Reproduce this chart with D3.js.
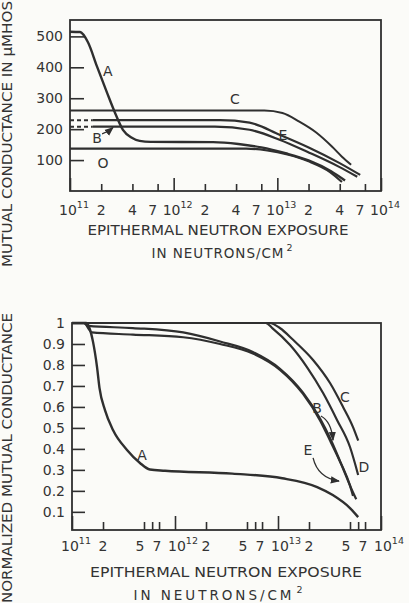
<!DOCTYPE html>
<html><head><meta charset="utf-8">
<script src="https://cdn.jsdelivr.net/npm/d3@7"></script>
<style>
html,body{margin:0;padding:0;background:#fbfbf8;}
svg{display:block;}
text{font-family:"DejaVu Sans",sans-serif;fill:#333;}
</style></head><body>
<svg id="chart" width="409" height="603"></svg>
<script>
// Exposure axis (neutrons/cm^2), shared by both panels
const decadeTicks = [1e11, 1e12, 1e13, 1e14];
const topMinorTicks = [2e11, 4e11, 7e11, 2e12, 4e12, 7e12, 2e13, 4e13, 7e13];
const topMinorLabels = ["2", "4", "7", "2", "4", "7", "2", "4", "7"];
const bottomMinorTicks = [2e11, 5e11, 6e11, 7e11, 2e12, 5e12, 6e12, 7e12, 2e13, 5e13, 6e13, 7e13];
const bottomMinorLabelTicks = [2e11, 5e11, 7e11, 2e12, 5e12, 7e12, 2e13, 5e13, 7e13];
const bottomMinorLabels = ["2", "5", "7", "2", "5", "7", "2", "5", "7"];
const decadeExponents = ["11", "12", "13", "14"];

// Upper panel: mutual conductance in micromhos
const absTicks = [100, 200, 300, 400, 500];
const absA = [[1e11,515],[1.25e11,514],[1.49e11,481],[1.82e11,403],[2.27e11,319],[2.71e11,254],[3.24e11,198],[3.95e11,172],[4.7e11,162],[6e11,159],[2.4e12,158],[4.2e12,152],[7e12,141],[1.2e13,122],[2e13,99],[3.3e13,64],[4.5e13,34]];
const absB = [[1e11,208],[1.66e11,208],[2.5e12,208],[5.4e12,198],[1.05e13,166],[2.03e13,124],[3.95e13,78],[5.9e13,46]];
const absC = [[1e11,260],[7.5e12,260],[1.12e13,252],[1.63e13,224],[2.37e13,189],[3.38e13,143],[4.2e13,111],[5.15e13,85]];
const absE = [[1e11,229],[1.66e11,229],[2.8e12,229],[5.4e12,221],[1.05e13,182],[2.03e13,140],[3.95e13,91],[6.3e13,52]];
const absO = [[1e11,137],[5e12,137],[8e12,131],[1.25e13,118],[2e13,96],[3.2e13,62],[4.2e13,29]];

// Lower panel: normalized mutual conductance
const normTicks = [0.1, 0.2, 0.3, 0.4, 0.5, 0.6, 0.7, 0.8, 0.9, 1];
const normTickLabels = ["0.1", "0.2", "0.3", "0.4", "0.5", "0.6", "0.7", "0.8", "0.9", "1"];
const normA = [[1e11,1],[1.38e11,1],[1.48e11,0.975],[1.6e11,0.91],[1.75e11,0.79],[1.85e11,0.69],[2.09e11,0.585],[2.5e11,0.49],[3.42e11,0.395],[4.57e11,0.333],[5.7e11,0.302],[8e11,0.296],[3.6e12,0.282],[1.1e13,0.26],[2.4e13,0.218],[3.4e13,0.18],[5e13,0.118],[6e13,0.075]];
const normB = [[1e11,1],[1.3e11,1],[1.45e11,0.986],[3.9e11,0.976],[1.2e12,0.955],[2.74e12,0.912],[5.7e12,0.862],[1.045e13,0.782],[1.75e13,0.668],[2.56e13,0.545],[3.2e13,0.452],[4e13,0.342],[5e13,0.226],[5.35e13,0.176]];
const normC = [[1e11,1],[8.3e12,1],[1.05e13,0.975],[1.4e13,0.92],[2.19e13,0.824],[3.2e13,0.714],[4.28e13,0.6],[5.35e13,0.504],[6e13,0.44]];
const normD = [[1e11,1],[7.6e12,1],[8.8e12,0.976],[1.31e13,0.895],[1.91e13,0.79],[2.74e13,0.666],[3.74e13,0.538],[5e13,0.409],[6e13,0.276]];
const normE = [[1e11,1],[1.3e11,1],[1.56e11,0.955],[3.9e11,0.945],[1.2e12,0.932],[2.74e12,0.9],[5.7e12,0.855],[1.045e13,0.777],[1.75e13,0.662],[2.56e13,0.536],[3.2e13,0.44],[4.1e13,0.328],[5.1e13,0.215],[5.75e13,0.16]];

// Curve letters, placed in data coordinates
const absLabels = [
  {t:"A", x:2.32e11, y:387}, {t:"C", x:3.9e12, y:296}, {t:"E", x:1.13e13, y:182},
  {t:"B", x:1.82e11, y:172}, {t:"O", x:2.08e11, y:91}
];
const normLabels = [
  {t:"A", x:4.79e11, y:0.371}, {t:"B", x:2.39e13, y:0.595}, {t:"C", x:4.47e13, y:0.647},
  {t:"E", x:1.95e13, y:0.395}, {t:"D", x:6.84e13, y:0.314}
];
// Leader arrows: start, bend, end
const absArrows = [[[2.04e11,185],[2.3e11,190],[2.6e11,205]]];
const normArrows = [
  [[2.61e13,0.557],[3.3e13,0.53],[3.42e13,0.442]],
  [[2.19e13,0.357],[2.44e13,0.261],[3.91e13,0.247]]
];

const ink = "#2f2f2f";
const svg = d3.select("#chart");

svg.append("defs").append("marker")
  .attr("id", "head").attr("viewBox", "0 0 10 10").attr("refX", 9).attr("refY", 5)
  .attr("markerWidth", 7).attr("markerHeight", 7).attr("orient", "auto")
  .append("path").attr("d", "M0,1 L10,5 L0,9 Z").attr("fill", ink);

function drawPanel(p) {
  const x = d3.scaleLog().domain([1e11, 1e14]).range([p.left, p.right]);
  const y = d3.scaleLinear().domain(p.yDomain).range([p.bottom, p.top]);
  const g = svg.append("g");

  // y ticks, pointing into the plot
  const yAxis = d3.axisLeft(y).tickValues(p.yTicks).tickSize(-p.yTickLen).tickPadding(7)
    .tickFormat((d, i) => p.yTickLabels ? p.yTickLabels[i] : d);
  const ya = g.append("g").attr("transform", `translate(${p.left},0)`).call(yAxis);
  ya.select(".domain").remove();
  ya.selectAll("line").attr("stroke", ink).attr("stroke-width", 1.6);
  ya.selectAll("text").attr("font-size", 14).attr("fill", "#333").attr("font-family", "DejaVu Sans");

  // x ticks: short minors, longer decades
  const xMinor = d3.axisBottom(x).tickValues(p.minorTicks).tickSize(-p.minorLen).tickFormat("");
  const xMajor = d3.axisBottom(x).tickValues(decadeTicks).tickSize(-p.majorLen).tickFormat("");
  [xMinor, xMajor].forEach(ax => {
    const a = g.append("g").attr("transform", `translate(0,${p.bottom})`).call(ax);
    a.select(".domain").remove();
    a.selectAll("line").attr("stroke", ink).attr("stroke-width", 1.6);
  });

  // x tick labels, nudged so neighbouring digits stay apart
  g.selectAll(null).data(p.minorLabelTicks).join("text")
    .attr("x", (d, i) => x(d) + (p.labelNudge[p.minorLabels[i]] || 0)).attr("y", p.labelBase)
    .attr("text-anchor", "middle")
    .attr("font-size", 14).text((d, i) => p.minorLabels[i]);
  const dec = g.selectAll(null).data(decadeTicks).join("text")
    .attr("x", (d, i) => x(d) + (i === 0 ? 4 : p.decadeNudge)).attr("y", p.labelBase)
    .attr("text-anchor", "middle")
    .attr("font-size", 14);
  dec.append("tspan").text("10");
  dec.append("tspan").attr("font-size", 9.5).attr("dy", -7).text((d, i) => decadeExponents[i]);

  // frame
  g.append("rect").attr("x", p.left).attr("y", p.top)
    .attr("width", p.right - p.left).attr("height", p.bottom - p.top)
    .attr("fill", "none").attr("stroke", ink).attr("stroke-width", 1.8);

  // curves
  const line = d3.line().x(d => x(d[0])).y(d => y(d[1])).curve(d3.curveMonotoneX);
  p.series.forEach(s => {
    if (s.dashLead) {
      g.append("path").attr("d", line(s.data.slice(0, 2))).attr("fill", "none")
        .attr("stroke", ink).attr("stroke-width", 2).attr("stroke-dasharray", "4,3");
      g.append("path").attr("d", line(s.data.slice(1))).attr("fill", "none")
        .attr("stroke", ink).attr("stroke-width", s.w || 2.2).attr("stroke-linejoin", "round");
    } else {
      g.append("path").attr("d", line(s.data)).attr("fill", "none")
        .attr("stroke", ink).attr("stroke-width", s.w || 2.2).attr("stroke-linejoin", "round");
    }
  });

  // letters
  g.selectAll(null).data(p.labels).join("text")
    .attr("x", d => x(d.x)).attr("y", d => y(d.y) + 5).attr("text-anchor", "middle")
    .attr("font-size", 14).text(d => d.t);

  // arrows
  p.arrows.forEach(a => {
    const [s, c, e] = a.map(d => [x(d[0]), y(d[1])]);
    g.append("path").attr("d", `M${s[0]},${s[1]} Q${c[0]},${c[1]} ${e[0]},${e[1]}`)
      .attr("fill", "none").attr("stroke", ink).attr("stroke-width", 1.3)
      .attr("marker-end", "url(#head)");
  });

  // axis titles
  g.append("text").attr("x", p.xTitleX).attr("y", p.xTitleY1).attr("text-anchor", "middle")
    .attr("font-size", 13.5).attr("textLength", p.xTitleLen).attr("lengthAdjust", "spacingAndGlyphs")
    .text("EPITHERMAL NEUTRON EXPOSURE");
  const t2 = g.append("text").attr("x", p.xTitleX2).attr("y", p.xTitleY2).attr("text-anchor", "middle")
    .attr("font-size", 13.5);
  t2.append("tspan").attr("textLength", p.xTitleLen2).attr("lengthAdjust", "spacing").text("IN NEUTRONS/CM");
  t2.append("tspan").attr("font-size", 9.5).attr("dy", -7).attr("dx", 2).text("2");

  g.append("text").attr("transform", `translate(${p.yTitleX},${p.yTitleY}) rotate(-90)`)
    .attr("text-anchor", "middle").attr("font-size", 13.5)
    .attr("textLength", p.yTitleLen).attr("lengthAdjust", "spacingAndGlyphs")
    .text(p.yTitle);
}

drawPanel({
  left: 70, right: 381, top: 20, bottom: 191, yDomain: [0, 553],
  yTicks: absTicks, yTickLen: 14,
  minorTicks: topMinorTicks, minorLabelTicks: topMinorTicks, minorLabels: topMinorLabels,
  labelNudge: {"7": -5}, decadeNudge: 4,
  minorLen: 7, majorLen: 13, labelBase: 215,
  series: [
    {data: absA, w: 2.4}, {data: absB, dashLead: true}, {data: absC, w: 2},
    {data: absE, dashLead: true}, {data: absO, w: 2.2}
  ],
  labels: absLabels, arrows: absArrows,
  xTitleX: 218, xTitleY1: 235, xTitleLen: 261, xTitleX2: 222, xTitleY2: 258, xTitleLen2: 132,
  yTitleX: 12, yTitleY: 134, yTitleLen: 266, yTitle: "MUTUAL CONDUCTANCE IN \u03BCMHOS"
});

drawPanel({
  left: 72, right: 381, top: 323, bottom: 530, yDomain: [0.0135, 1],
  yTicks: normTicks, yTickLabels: normTickLabels, yTickLen: 13,
  minorTicks: bottomMinorTicks, minorLabelTicks: bottomMinorLabelTicks, minorLabels: bottomMinorLabels,
  labelNudge: {"5": -4, "7": -2}, decadeNudge: 8,
  minorLen: 8, majorLen: 14, labelBase: 551,
  series: [
    {data: normA, w: 2.4}, {data: normB, w: 2.2}, {data: normC, w: 2.2},
    {data: normD, w: 2.2}, {data: normE, w: 2.2}
  ],
  labels: normLabels, arrows: normArrows,
  xTitleX: 226, xTitleY1: 577, xTitleLen: 272, xTitleX2: 218, xTitleY2: 600, xTitleLen2: 158,
  yTitleX: 12, yTitleY: 458, yTitleLen: 290, yTitle: "NORMALIZED MUTUAL CONDUCTANCE"
});
</script>
</body></html>
